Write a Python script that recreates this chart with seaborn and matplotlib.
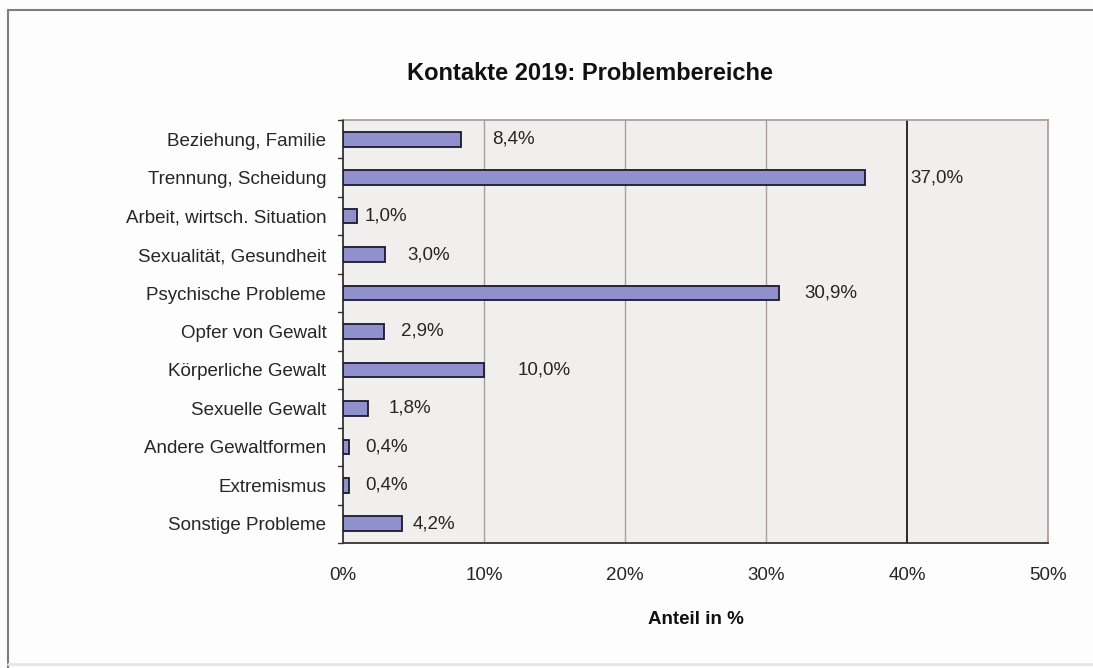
import matplotlib
matplotlib.use("Agg")
import matplotlib.pyplot as plt
import seaborn as sns
import pandas as pd
from matplotlib.lines import Line2D

# Daten
kategorien = [
    "Beziehung, Familie",
    "Trennung, Scheidung",
    "Arbeit, wirtsch. Situation",
    "Sexualität, Gesundheit",
    "Psychische Probleme",
    "Opfer von Gewalt",
    "Körperliche Gewalt",
    "Sexuelle Gewalt",
    "Andere Gewaltformen",
    "Extremismus",
    "Sonstige Probleme",
]
anteile = [8.4, 37.0, 1.0, 3.0, 30.9, 2.9, 10.0, 1.8, 0.4, 0.4, 4.2]
x_ticks = [0, 10, 20, 30, 40, 50]

# Abstand der Beschriftungen zum Balken (Pixel), wie im Original uneinheitlich
label_offsets = [31, 46, 8, 22, 26, 17, 34, 20, 17, 17, 10]

df = pd.DataFrame({"Kategorie": kategorien, "Anteil": anteile})

sns.set_style("white")
plt.rcParams["font.family"] = ["Liberation Sans", "DejaVu Sans"]

fig = plt.figure(figsize=(10.93, 6.68), dpi=100)
fig.patch.set_facecolor("#fdfdfd")

# Rahmen um das ganze Diagramm
fig.add_artist(Line2D([8 / 1093, 8 / 1093], [0, 1 - 10 / 668], transform=fig.transFigure,
                      color="#857a7a", lw=1.5))
fig.add_artist(Line2D([8 / 1093, 1], [1 - 10 / 668, 1 - 10 / 668], transform=fig.transFigure,
                      color="#857a7a", lw=1.5))
fig.add_artist(Line2D([8 / 1093, 1], [4 / 668, 4 / 668], transform=fig.transFigure,
                      color="#e6e6e6", lw=2))

ax = fig.add_axes([343 / 1093, 1 - 543 / 668, 705 / 1093, 423 / 668])
ax.set_facecolor("#f0efee")

sns.barplot(data=df, x="Anteil", y="Kategorie", orient="h", ax=ax,
            color="#9090cc", edgecolor="#1a1a2e", linewidth=1.3, width=0.38,
            saturation=1, zorder=3)

ax.set_xlim(0, 50)
ax.set_ylim(len(kategorien) - 0.5, -0.5)
ax.set_xticks(x_ticks)
ax.set_xticklabels([f"{t}%" for t in x_ticks], fontsize=13.5, color="#262626")
ax.tick_params(axis="y", labelsize=13.5, labelcolor="#262626", length=0, pad=12)
ax.tick_params(axis="x", length=5, width=1, color="#333333", pad=12)

# kleine Striche zwischen den Kategorien
for i in range(len(kategorien) + 1):
    ax.plot([-0.35, 0], [i - 0.5, i - 0.5], color="#333333", lw=1,
            clip_on=False, zorder=4)

# Gitterlinien
for t in x_ticks[1:-1]:
    if t == 40:
        ax.axvline(t, color="#2a2a2a", lw=1.4, zorder=1)
    else:
        ax.axvline(t, color="#a89f9f", lw=1, zorder=1)

for side in ["top", "right"]:
    ax.spines[side].set_color("#a89898")
    ax.spines[side].set_linewidth(1.2)
for side in ["left", "bottom"]:
    ax.spines[side].set_color("#333333")
    ax.spines[side].set_linewidth(1.3)

ax.set_ylabel("")
ax.set_xlabel("Anteil in %", fontsize=13.5, fontweight="bold", labelpad=20, color="#111111")

for i, (wert, off) in enumerate(zip(anteile, label_offsets)):
    ax.annotate(f"{wert:.1f}%".replace(".", ","), xy=(wert, i), xytext=(off, 0),
                textcoords="offset pixels", va="center", ha="left",
                fontsize=13.5, color="#262626", zorder=5)

fig.text(590 / 1093, 1 - 73 / 668, "Kontakte 2019: Problembereiche",
         ha="center", va="center", fontsize=17, fontweight="bold", color="#111111")

fig.savefig("out.png", dpi=100, facecolor=fig.get_facecolor())
